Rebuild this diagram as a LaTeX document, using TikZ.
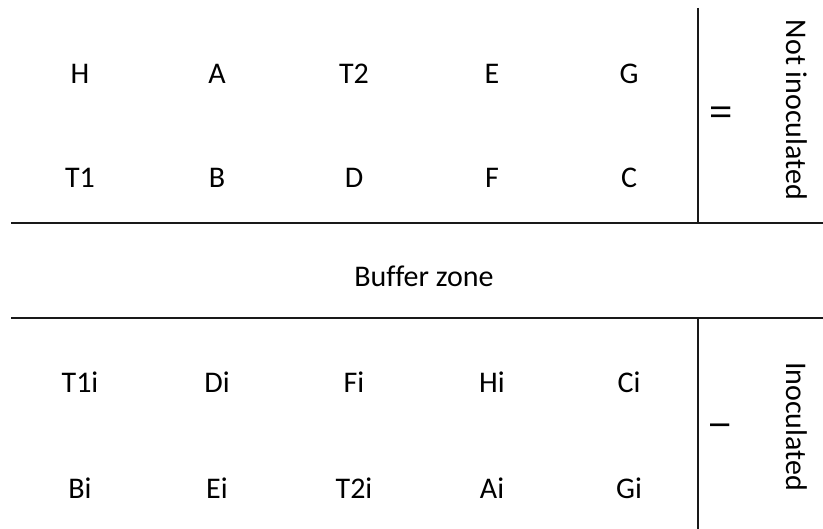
\documentclass[tikz,border=0pt]{standalone}
\usepackage{fontspec}
\setmainfont[Ligatures=NoCommon]{Carlito}
\begin{document}
\begin{tikzpicture}[x=1pt,y=1pt,
  lbl/.style={anchor=base,inner sep=0pt,font=\fontsize{30}{36}\selectfont},
  side/.style={anchor=base,inner sep=0pt,rotate=-90,font=\fontsize{30}{36}\selectfont},
  numeral/.style={anchor=center,inner sep=0pt,rotate=-90,font=\fontsize{30}{36}\selectfont},
  rule/.style={line width=2.2pt,black!90}]
\useasboundingbox (0,0) rectangle (823,529);
% top block
\node[lbl] (H)  at (80,445.7)  {H};
\node[lbl] (A)  at (217,445.7) {A};
\node[lbl] (T2) at (354,445.7) {T2};
\node[lbl] (E)  at (492,445.7) {E};
\node[lbl] (G)  at (629,445.7) {G};
\node[lbl] (T1) at (80,341)    {T1};
\node[lbl] (B)  at (217,341)   {B};
\node[lbl] (D)  at (354,341)   {D};
\node[lbl] (F)  at (492,341)   {F};
\node[lbl] (C)  at (629,341)   {C};
% buffer
\node[lbl] (buf) at (424,242) {Buffer zone};
% bottom block
\node[lbl] (T1i) at (80,136.3)  {T1i};
\node[lbl] (Di)  at (217,136.3) {Di};
\node[lbl] (Fi)  at (354,136.3) {Fi};
\node[lbl] (Hi)  at (492,136.3) {Hi};
\node[lbl] (Ci)  at (629,136.3) {Ci};
\node[lbl] (Bi)  at (80,30)     {Bi};
\node[lbl] (Ei)  at (217,30)    {Ei};
\node[lbl] (T2i) at (354,30)    {T2i};
\node[lbl] (Ai)  at (492,30)    {Ai};
\node[lbl] (Gi)  at (629,30)    {Gi};
% side labels
\node[numeral] (II) at (721,416.5) {II};
\node[numeral] (I)  at (720,104)   {I};
\node[side] (notin) at (786,419)  {Not inoculated};
\node[side] (inoc)  at (786,102.5) {Inoculated};
% rules
\coordinate (tl) at (11,306);
\coordinate (tr) at (823,306);
\coordinate (bl) at (11,211);
\coordinate (br) at (823,211);
\coordinate (vt1) at (697.7,521);
\coordinate (vb1) at (697.7,306);
\coordinate (vt2) at (697.7,211);
\coordinate (vb2) at (697.7,0);
\draw[rule] (tl) -- (tr);
\draw[rule] (bl) -- (br);
\draw[rule] (vt1) -- (vb1);
\draw[rule] (vt2) -- (vb2);
\end{tikzpicture}
\end{document}
